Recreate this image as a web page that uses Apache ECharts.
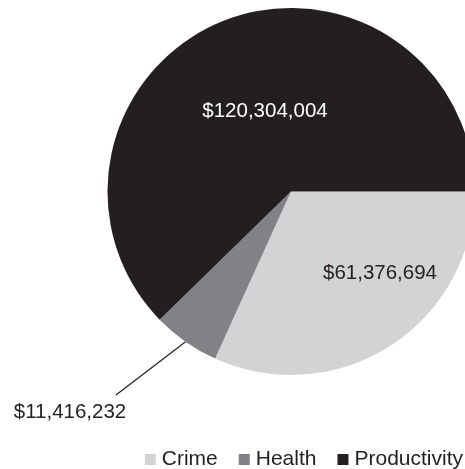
<!DOCTYPE html>
<html>
<head>
<meta charset="utf-8">
<script src="https://cdn.jsdelivr.net/npm/echarts@6/dist/echarts.min.js"></script>
<style>
  html, body { margin: 0; padding: 0; background: #ffffff; }
  #chart { width: 465px; height: 469px; }
</style>
</head>
<body>
<div id="chart"></div>
<script>
// ---- data ----
const categories = ['Crime', 'Health', 'Productivity'];
const values = [61376694, 11416232, 120304004];
const colors = ['#d1d3d4', '#808285', '#231f20'];
const labelColors = ['#231f20', '#231f20', '#ffffff'];

// ---- layout (styles, not data) ----
const CX = 291, CY = 191.5, R = 183.5;
const labelCenters = [[380, 273], [70, 412], [265, 111]];
const FONT = '"Liberation Sans", Arial, Helvetica, sans-serif';

function fmt(v) { return '$' + v.toLocaleString('en-US'); }

const total = values.reduce((a, b) => a + b, 0);
// mid angle (clockwise from 3 o'clock, degrees) for each slice, start angle 0
const midAngles = [];
{
  let acc = 0;
  values.forEach(v => {
    const span = v / total * 360;
    midAngles.push(acc + span / 2);
    acc += span;
  });
}

const chart = echarts.init(document.getElementById('chart'), null, { renderer: 'canvas' });

chart.setOption({
  animation: false,
  backgroundColor: '#ffffff',
  color: colors,
  legend: {
    data: categories,
    right: -3,
    top: 444,
    icon: 'rect',
    itemWidth: 11,
    itemHeight: 11,
    itemGap: 21,
    textStyle: { fontFamily: FONT, fontSize: 21, color: '#231f20', padding: [0, 0, 0, 1] }
  },
  series: [{
    type: 'pie',
    center: [CX, CY],
    radius: [0, R],
    startAngle: 0,
    clockwise: true,
    avoidLabelOverlap: false,
    itemStyle: { borderWidth: 0 },
    label: {
      fontFamily: FONT,
      fontSize: 20.5,
      formatter: p => fmt(p.value)
    },
    labelLine: { show: false },
    data: categories.map((name, i) => ({
      name: name,
      value: values[i],
      itemStyle: { color: colors[i] },
      label: {
        show: true,
        position: i === 1 ? 'outside' : 'inside',
        color: labelColors[i]
      },
      labelLine: i === 1 ? { show: true, lineStyle: { color: '#231f20', width: 1.2 } } : { show: false }
    })),
    labelLayout: function (params) {
      const i = params.dataIndex;
      const c = labelCenters[i];
      const out = { x: c[0], y: c[1], align: 'center', verticalAlign: 'middle' };
      if (i === 1) {
        const a = midAngles[i] * Math.PI / 180;
        const start = [CX + R * Math.cos(a), CY + R * Math.sin(a)];
        const end = [c[0] + 46, c[1] - 17];
        out.labelLinePoints = [start, end, end];
      }
      return out;
    }
  }]
});
</script>
</body>
</html>
